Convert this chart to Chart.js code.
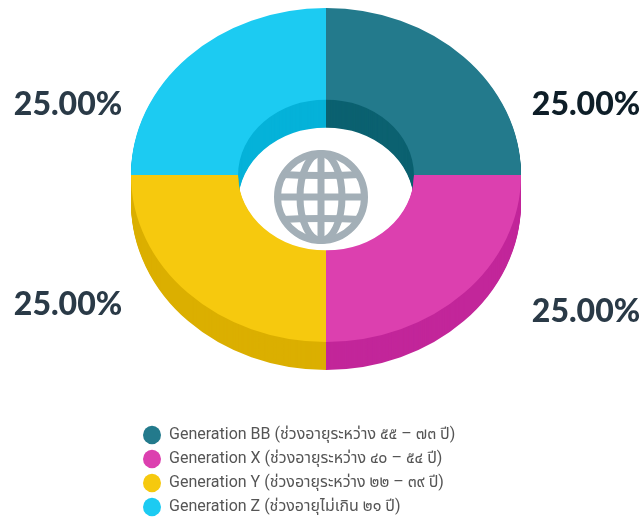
<!DOCTYPE html>
<html><head><meta charset="utf-8">
<style>html,body{margin:0;padding:0;background:#fff}#w{width:643px;height:519px;position:relative}</style>
<script src="https://cdn.jsdelivr.net/npm/chart.js@4"></script>
</head><body><div id="w"><canvas id="c" width="643" height="519"></canvas></div>
<script>
const categories = ['Generation BB (ช่วงอายุระหว่าง ๕๕ – ๗๓ ปี)','Generation X (ช่วงอายุระหว่าง ๔๐ – ๕๔ ปี)','Generation Y (ช่วงอายุระหว่าง ๒๒ – ๓๙ ปี)','Generation Z (ช่วงอายุไม่เกิน ๒๑ ปี)'];
const values = [25, 25, 25, 25];
const faceColors = ['#237A8C','#DC40AF','#F6C90E','#1CCBF2'];
const sideColors = ['#0B6170','#C2269A','#DBAF00','#05B2D9'];
const labelPlaces = [[586,105],[586,312],[68,305],[68,105]];
const labelColors = ['#0E1E28','#2A3A47','#2A3A47','#2A3A47'];

const CX=326, CY=175, RX=195, SQUASH=167/195, DEPTH=28;
function place(chart){
  const a=chart.getDatasetMeta(0).data[0];
  chart.ctx.translate(CX-a.x, CY-a.y*SQUASH);
  chart.ctx.scale(1,SQUASH);
}
const pie3d={
  id:'pie3d',
  afterLayout(chart){
    const l=chart.legend;
    l.maxWidth=300; l.fit();
    l.maxWidth=480; l.width=480;
    l.left=135; l.right=l.left+l.width; l.top=419; l.bottom=l.top+l.height;
    l.adjustHitBoxes();
  },
  beforeDatasetsDraw(chart){
    const ctx=chart.ctx, arcs=chart.getDatasetMeta(0).data;
    for(let d=DEPTH;d>0;d--){
      arcs.forEach((arc,i)=>{
        ctx.save();
        ctx.translate(0,d);
        place(chart);
        const o=arc.options;
        arc.options=Object.create(o,{backgroundColor:{value:sideColors[i]}});
        arc.draw(ctx);
        arc.options=o;
        ctx.restore();
      });
    }
    ctx.save();
    place(chart);
  },
  afterDatasetsDraw(chart){
    const ctx=chart.ctx;
    ctx.restore();
    const total=values.reduce((a,b)=>a+b,0);
    ctx.save();
    ctx.font='900 32px Lato';
    ctx.textAlign='center';ctx.textBaseline='middle';
    values.forEach((v,i)=>{
      ctx.fillStyle=labelColors[i];
      ctx.fillText((v/total*100).toFixed(2)+'%',labelPlaces[i][0],labelPlaces[i][1]);
    });
    ctx.restore();
    const gx=321,gy=197,r=47;
    ctx.save();
    ctx.strokeStyle='#A3AFB7';ctx.lineWidth=7;
    ctx.beginPath();ctx.arc(gx,gy,r-3.5,0,Math.PI*2);ctx.stroke();
    ctx.beginPath();ctx.ellipse(gx,gy,21,r-3.5,0,0,Math.PI*2);ctx.stroke();
    ctx.beginPath();ctx.moveTo(gx,gy-r+2);ctx.lineTo(gx,gy+r-2);ctx.stroke();
    ctx.beginPath();ctx.moveTo(gx-r+2,gy);ctx.lineTo(gx+r-2,gy);ctx.stroke();
    ctx.save();
    ctx.beginPath();ctx.arc(gx,gy,r-3.5,0,Math.PI*2);ctx.clip();
    ctx.beginPath();ctx.moveTo(gx-r,gy-23);ctx.quadraticCurveTo(gx,gy-20,gx+r,gy-23);ctx.stroke();
    ctx.beginPath();ctx.moveTo(gx-r,gy+23);ctx.quadraticCurveTo(gx,gy+20,gx+r,gy+23);ctx.stroke();
    ctx.restore();
    ctx.restore();
  }
};
new Chart(document.getElementById('c'),{
  type:'doughnut',
  data:{labels:categories,datasets:[{data:values,backgroundColor:faceColors,borderWidth:0,radius:RX,cutout:'45.1%'}]},
  options:{
    responsive:false,animation:false,
    plugins:{
      tooltip:{enabled:false},
      legend:{
        position:'bottom',align:'start',
        labels:{
          usePointStyle:true,pointStyle:'circle',boxHeight:13,pointStyleWidth:18,padding:8,
          color:'#555555',font:{family:'Roboto, "Noto Sans Thai", "Noto Sans", sans-serif',size:16}
        }
      }
    }
  },
  plugins:[pie3d]
});
</script></body></html>
